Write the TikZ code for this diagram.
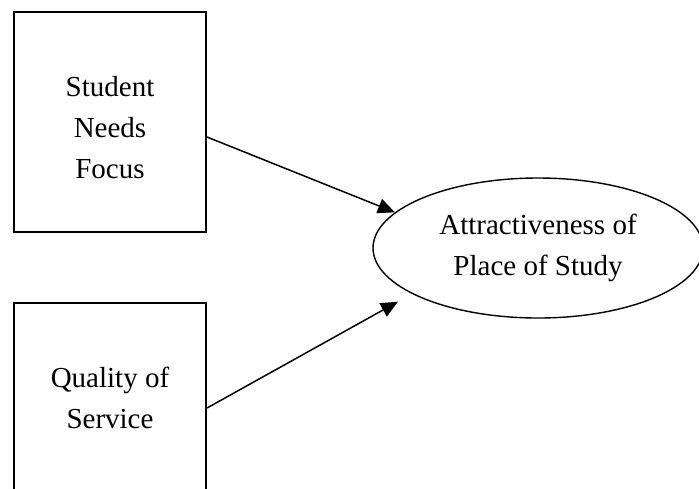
\documentclass[tikz,border=0pt]{standalone}
\usepackage{fontspec}
\setmainfont{Liberation Serif}
\usetikzlibrary{arrows.meta, shapes.geometric}

\begin{document}
\begin{tikzpicture}[x=0.5pt, y=-0.5pt, every node/.style={align=center, font=\fontsize{14.5pt}{20.5pt}\selectfont},
  >={Triangle[length=8.5pt, width=7.5pt]}]
\useasboundingbox (0,0) rectangle (699,488);
\node (student) [draw, line width=1pt, minimum width=96pt, minimum height=110pt] at (110,122) {\rule{0pt}{16pt}Student\\Needs\\Focus};
\node (quality) [draw, line width=1pt, minimum width=96pt, minimum height=95pt] at (110,398) {Quality of\\Service};
\node (attract) [draw, ellipse, line width=0.7pt, inner sep=0pt, minimum width=165pt, minimum height=70pt] at (538,248) {Attractiveness of\\Place of Study};
\draw[->, line width=0.75pt] ([yshift=-7.5pt]student.east) -- (attract.166);
\draw[->, line width=0.75pt, shorten >=8pt] ([yshift=-5pt]quality.east) -- (attract.200);
\end{tikzpicture}
\end{document}
